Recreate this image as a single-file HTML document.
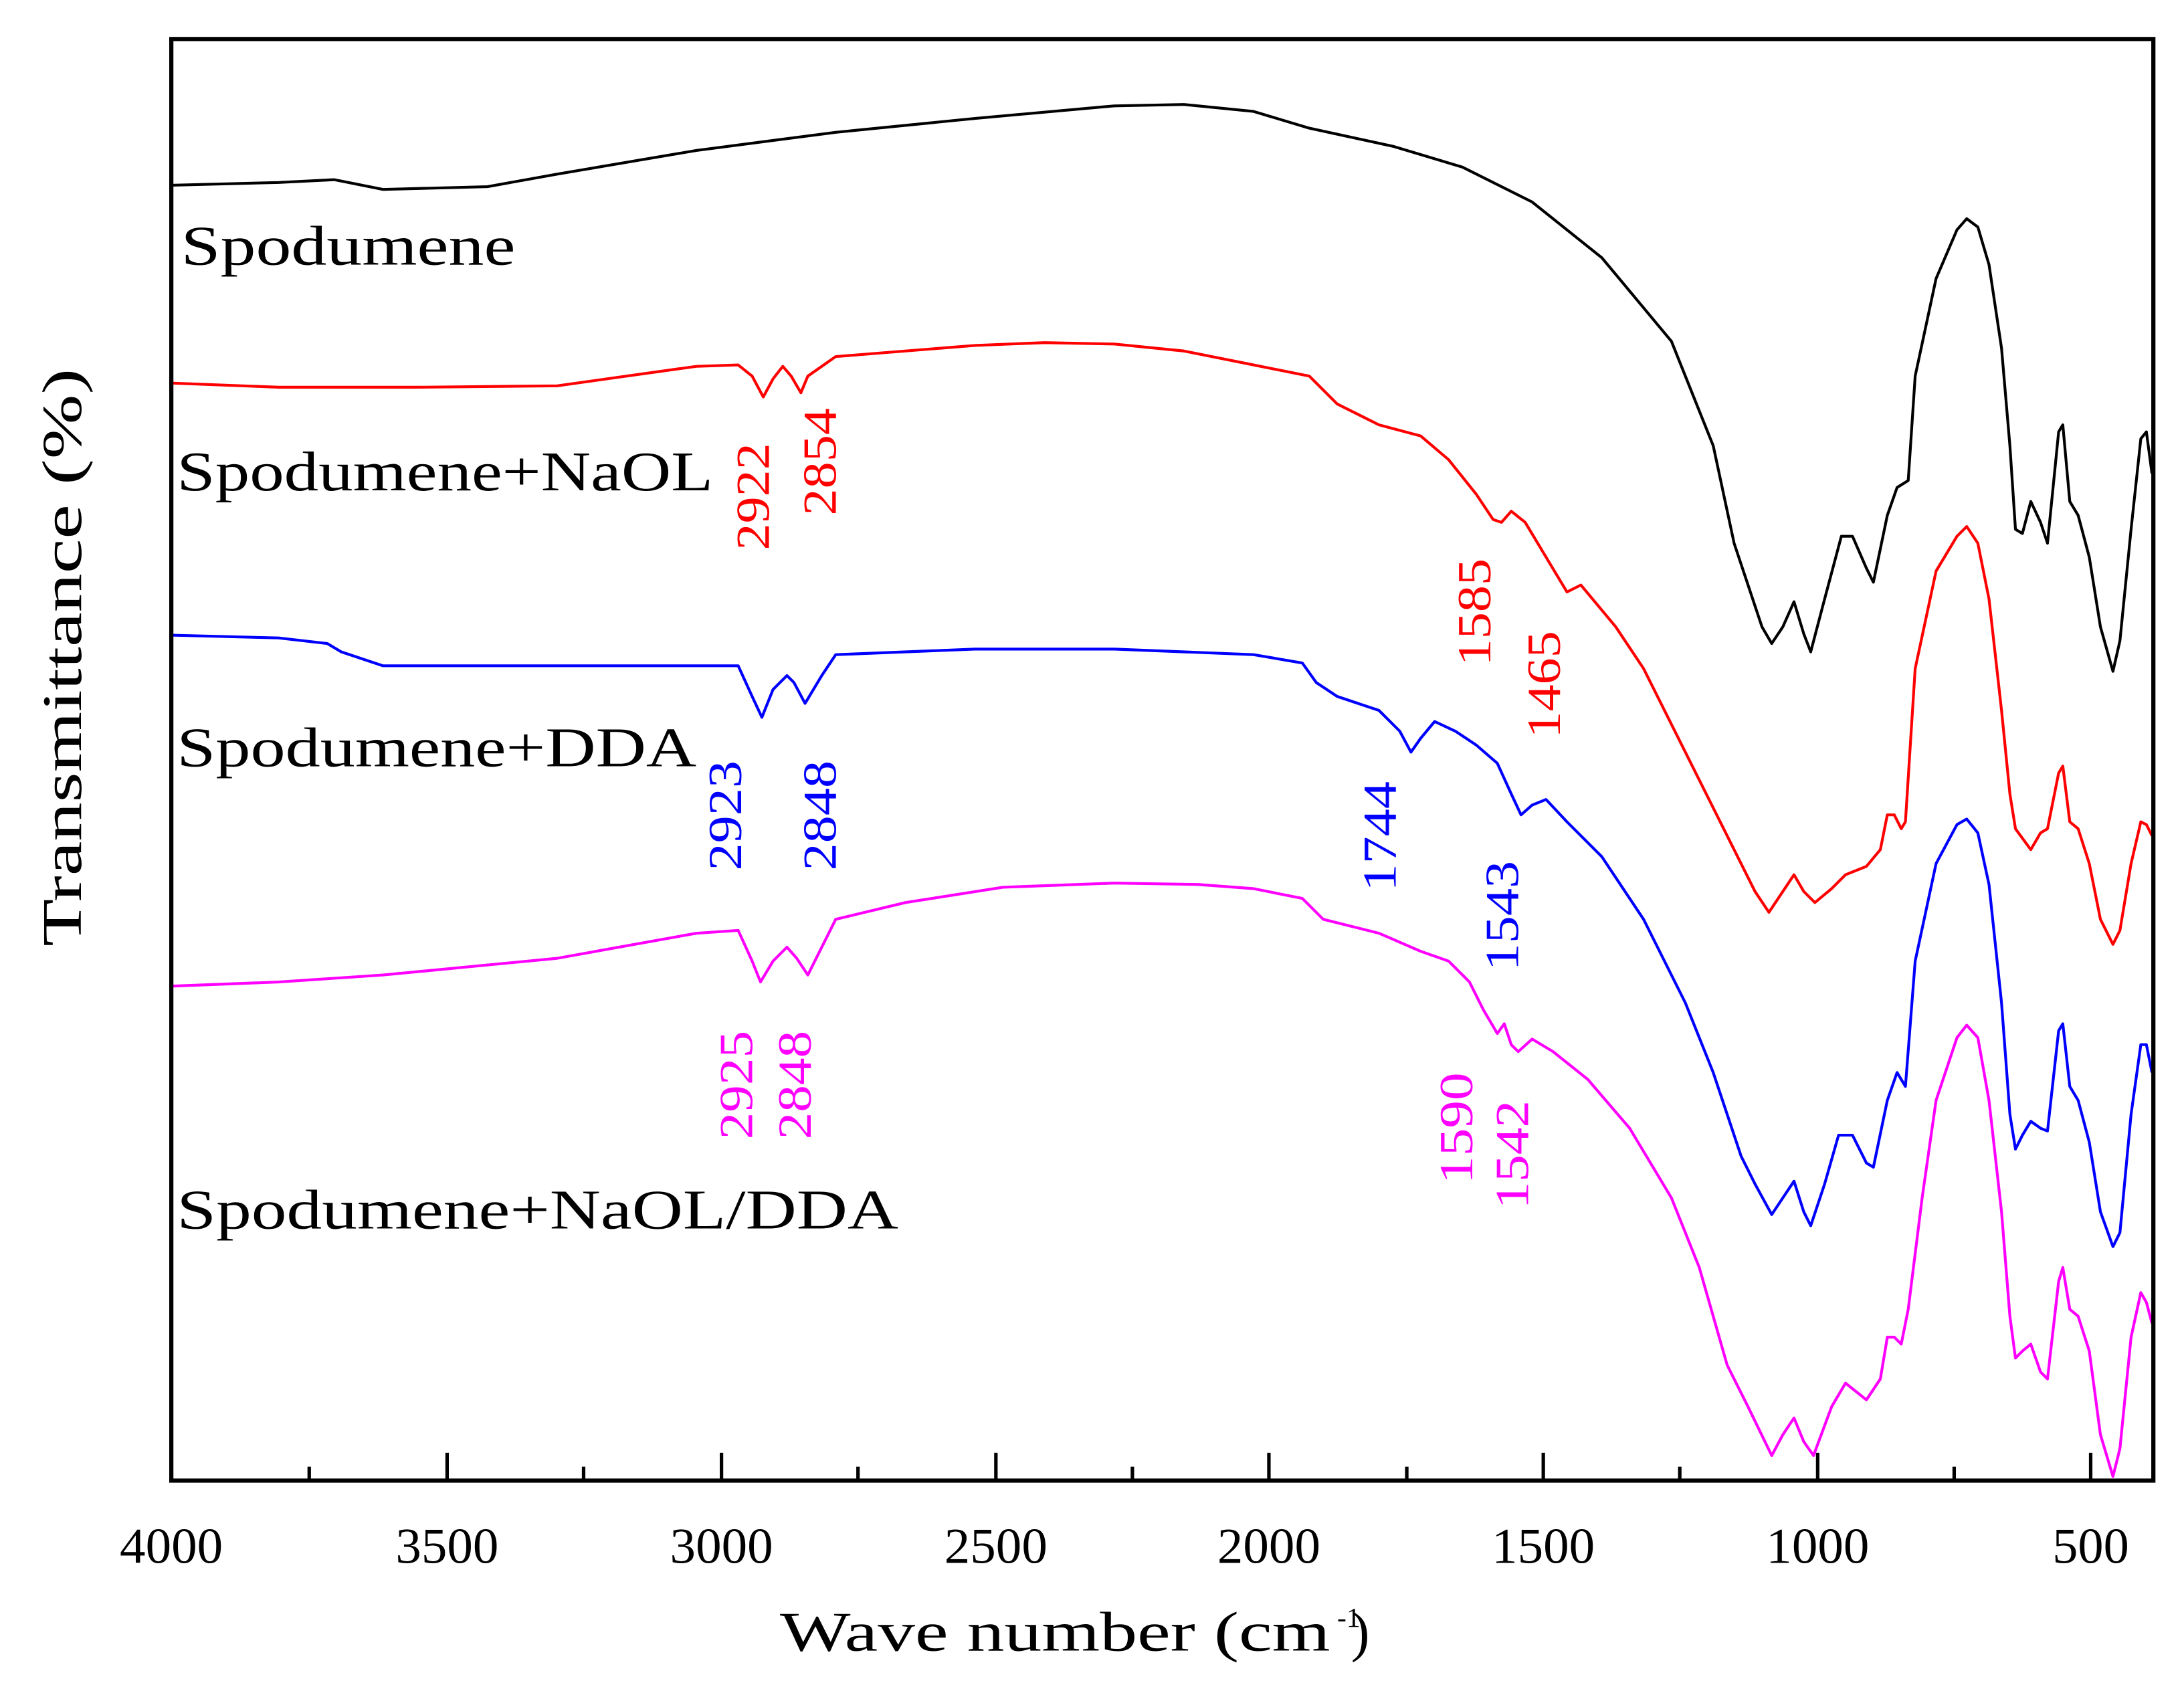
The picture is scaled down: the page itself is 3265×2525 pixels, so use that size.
<!DOCTYPE html>
<html><head><meta charset="utf-8"><style>html,body{margin:0;padding:0;background:#fff}svg{display:block}</style></head><body>
<svg xmlns="http://www.w3.org/2000/svg" width="3265" height="2525" viewBox="0 0 1568 1212.6">
<rect width="1568" height="1212.6" fill="#fff"/>
<g fill="none" stroke-width="2" stroke-linejoin="round">
<polyline stroke="#000" points="123,133 200,131 240,129 275,136 350,134 400,125 500,108 600,95 700,85 800,76 850,75 900,80 940,92 1000,105 1050,120 1100,145 1150,185 1200,245 1230,320 1245,390 1255,420 1265,450 1272,462 1280,450 1288,432 1295,455 1300,468 1310,430 1322,385 1330,385 1340,408 1345,418 1355,370 1362,350 1370,345 1375,270 1390,200 1405,165 1412,157 1420,163 1428,190 1437,250 1443,320 1447,380 1452,383 1458,360 1465,375 1470,390 1478,310 1481,305 1486,360 1492,370 1500,400 1508,450 1517,482 1522,460 1530,380 1537,315 1541,310 1545,340"/>
<polyline stroke="#ff0000" points="123,275 200,278 300,278 400,277 450,270 500,263 530,262 540,270 548,285 555,272 562,263 568,270 575,282 580,270 600,256 700,248 750,246 800,247 850,252 900,262 940,270 960,290 990,305 1020,313 1040,330 1060,355 1072,373 1078,375 1085,367 1095,375 1110,400 1125,425 1135,420 1160,450 1180,480 1200,520 1220,560 1245,610 1260,640 1270,655 1280,640 1288,628 1295,640 1303,648 1315,638 1325,628 1340,622 1350,610 1355,585 1360,585 1365,595 1368,590 1375,480 1390,410 1405,385 1412,378 1420,390 1428,430 1437,510 1443,570 1447,595 1458,610 1465,598 1470,595 1478,555 1481,550 1486,590 1492,595 1500,620 1508,660 1517,678 1522,668 1530,620 1537,590 1541,592 1545,600"/>
<polyline stroke="#0000ff" points="123,456 200,458 235,462 245,468 275,478 400,478 500,478 530,478 540,500 547,515 555,495 565,485 570,490 578,505 590,485 600,470 700,466 800,466 900,470 935,476 945,490 960,500 990,510 1005,525 1013,540 1020,530 1030,518 1045,525 1060,535 1075,548 1085,570 1092,585 1100,578 1110,574 1125,590 1150,615 1180,660 1210,720 1230,770 1240,800 1250,830 1260,850 1272,872 1280,860 1288,848 1295,870 1300,880 1310,850 1320,815 1330,815 1340,835 1345,838 1355,790 1362,770 1368,780 1375,690 1390,620 1405,592 1412,588 1420,598 1428,635 1437,720 1443,800 1447,825 1452,815 1458,805 1465,810 1470,812 1478,740 1481,735 1486,780 1492,790 1500,820 1508,870 1517,895 1522,885 1530,800 1537,750 1541,750 1545,770"/>
<polyline stroke="#ff00ff" points="123,708 200,705 275,700 400,688 500,670 530,668 540,690 546,705 555,690 565,680 572,688 580,700 590,680 600,660 650,648 720,637 800,634 860,635 900,638 935,645 950,660 990,670 1020,683 1040,690 1055,705 1065,725 1075,742 1080,735 1085,750 1090,755 1100,746 1115,755 1140,775 1170,810 1200,860 1220,910 1240,980 1255,1010 1272,1045 1280,1030 1288,1018 1295,1035 1302,1045 1315,1010 1325,993 1340,1005 1350,990 1355,960 1360,960 1365,965 1370,940 1380,860 1390,790 1405,745 1412,736 1420,745 1428,790 1437,870 1443,945 1447,975 1452,970 1458,965 1465,985 1470,990 1478,920 1481,910 1486,940 1492,945 1500,970 1508,1030 1517,1060 1522,1040 1530,960 1537,928 1541,935 1545,950"/>
</g>
<rect x="123" y="28" width="1423" height="1035" fill="none" stroke="#000" stroke-width="3"/>
<g stroke="#000" stroke-width="2.5">
<line x1="123" y1="1063" x2="123" y2="1043"/><line x1="321" y1="1063" x2="321" y2="1043"/><line x1="518" y1="1063" x2="518" y2="1043"/><line x1="715" y1="1063" x2="715" y2="1043"/><line x1="911" y1="1063" x2="911" y2="1043"/><line x1="1108" y1="1063" x2="1108" y2="1043"/><line x1="1305" y1="1063" x2="1305" y2="1043"/><line x1="1501" y1="1063" x2="1501" y2="1043"/>
<line x1="222" y1="1063" x2="222" y2="1053"/><line x1="419" y1="1063" x2="419" y2="1053"/><line x1="616" y1="1063" x2="616" y2="1053"/><line x1="813" y1="1063" x2="813" y2="1053"/><line x1="1010" y1="1063" x2="1010" y2="1053"/><line x1="1206" y1="1063" x2="1206" y2="1053"/><line x1="1403" y1="1063" x2="1403" y2="1053"/>
</g>
<g font-family="Liberation Serif, serif" font-size="36" text-anchor="middle" fill="#000" lengthAdjust="spacingAndGlyphs">
<text x="123" y="1122" textLength="74" lengthAdjust="spacingAndGlyphs">4000</text><text x="321" y="1122" textLength="74" lengthAdjust="spacingAndGlyphs">3500</text><text x="518" y="1122" textLength="74" lengthAdjust="spacingAndGlyphs">3000</text><text x="715" y="1122" textLength="74" lengthAdjust="spacingAndGlyphs">2500</text><text x="911" y="1122" textLength="74" lengthAdjust="spacingAndGlyphs">2000</text><text x="1108" y="1122" textLength="74" lengthAdjust="spacingAndGlyphs">1500</text><text x="1305" y="1122" textLength="74" lengthAdjust="spacingAndGlyphs">1000</text><text x="1501" y="1122" textLength="55" lengthAdjust="spacingAndGlyphs">500</text>
</g>
<g font-family="Liberation Serif, serif" font-size="40" fill="#000">
<text x="560" y="1185" textLength="395" lengthAdjust="spacingAndGlyphs">Wave number (cm</text><text x="960" y="1168" font-size="20">-1</text><text x="970" y="1185">)</text>
<text transform="translate(58,472) rotate(-90)" text-anchor="middle" textLength="415" lengthAdjust="spacingAndGlyphs">Transmittance (%)</text>
<text x="130" y="190" textLength="240" lengthAdjust="spacingAndGlyphs">Spodumene</text>
<text x="127" y="352" textLength="385" lengthAdjust="spacingAndGlyphs">Spodumene+NaOL</text>
<text x="127" y="550" textLength="373" lengthAdjust="spacingAndGlyphs">Spodumene+DDA</text>
<text x="127" y="882" textLength="518" lengthAdjust="spacingAndGlyphs">Spodumene+NaOL/DDA</text>
</g>
<g font-family="Liberation Serif, serif" font-size="34">
<g fill="#ff0000">
<text transform="translate(552,395) rotate(-90)" textLength="77" lengthAdjust="spacingAndGlyphs">2922</text>
<text transform="translate(600,370) rotate(-90)" textLength="77" lengthAdjust="spacingAndGlyphs">2854</text>
<text transform="translate(1070,478) rotate(-90)" textLength="77" lengthAdjust="spacingAndGlyphs">1585</text>
<text transform="translate(1120,530) rotate(-90)" textLength="77" lengthAdjust="spacingAndGlyphs">1465</text>
</g>
<g fill="#0000ff">
<text transform="translate(532,625) rotate(-90)" textLength="79" lengthAdjust="spacingAndGlyphs">2923</text>
<text transform="translate(600,625) rotate(-90)" textLength="79" lengthAdjust="spacingAndGlyphs">2848</text>
<text transform="translate(1002,640) rotate(-90)" textLength="79" lengthAdjust="spacingAndGlyphs">1744</text>
<text transform="translate(1090,697) rotate(-90)" textLength="79" lengthAdjust="spacingAndGlyphs">1543</text>
</g>
<g fill="#ff00ff">
<text transform="translate(540,818) rotate(-90)" textLength="78" lengthAdjust="spacingAndGlyphs">2925</text>
<text transform="translate(582,818) rotate(-90)" textLength="78" lengthAdjust="spacingAndGlyphs">2848</text>
<text transform="translate(1057,850) rotate(-90)" textLength="80" lengthAdjust="spacingAndGlyphs">1590</text>
<text transform="translate(1097,868) rotate(-90)" textLength="78" lengthAdjust="spacingAndGlyphs">1542</text>
</g>
</g>
</svg>
</body></html>
